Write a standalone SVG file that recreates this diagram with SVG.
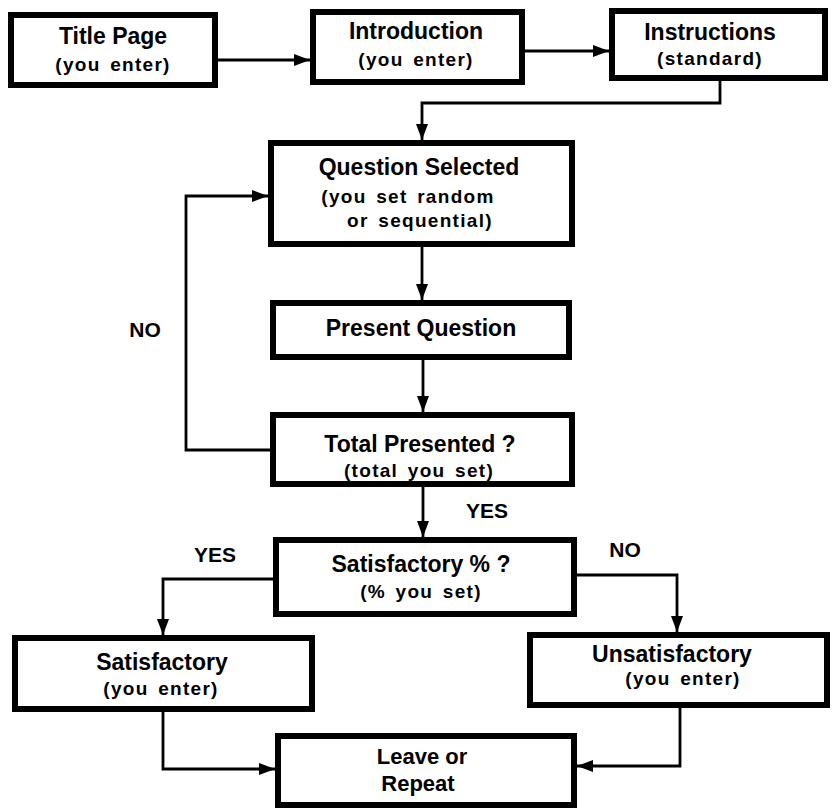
<svg xmlns="http://www.w3.org/2000/svg" width="832" height="809" viewBox="0 0 832 809">
<style>
.box{fill:#fff;stroke:#000;stroke-width:6}
.main{font-family:"Liberation Sans",Arial,Helvetica,sans-serif;font-weight:bold;font-size:23px;text-anchor:middle;fill:#000}
.sub{font-family:"Liberation Sans",Arial,Helvetica,sans-serif;font-weight:bold;font-size:19px;letter-spacing:1.3px;word-spacing:3px;text-anchor:middle;fill:#000}
.lbl{font-family:"Liberation Sans",Arial,Helvetica,sans-serif;font-weight:bold;font-size:21px;text-anchor:middle;fill:#000}
.con{fill:none;stroke:#000;stroke-width:2.8;marker-end:url(#arr)}
</style>
<defs>
<marker id="arr" viewBox="0 0 16 12" refX="16" refY="6" markerWidth="16" markerHeight="12" markerUnits="userSpaceOnUse" orient="auto">
<path d="M0,0 L16,6 L0,12 z" fill="#000"/>
</marker>
</defs>
<rect width="832" height="809" fill="#fff"/>
<g id="connectors">
<path class="con" d="M218,60 H310"/>
<path class="con" d="M525,51 H609"/>
<path class="con" d="M720,80 V103 H422 V140"/>
<path class="con" d="M422,247 V300"/>
<path class="con" d="M423,360 V412"/>
<path class="con" d="M423,487 V537"/>
<path class="con" d="M270,450 H186 V196 H268"/>
<path class="con" d="M273,579 H163 V635"/>
<path class="con" d="M577,575 H677 V632"/>
<path class="con" d="M163,712 V769 H275"/>
<path class="con" d="M680,708 V766 H577"/>
</g>
<g id="labels">
<text class="lbl" x="145" y="337">NO</text>
<text class="lbl" x="487" y="518">YES</text>
<text class="lbl" x="215" y="562">YES</text>
<text class="lbl" x="625" y="557">NO</text>
</g>
<g id="title-page">
<rect class="box" x="11" y="15" width="204" height="70"/>
<text class="main" x="113" y="44">Title Page</text>
<text class="sub" x="113" y="71">(you enter)</text>
</g>
<g id="introduction">
<rect class="box" x="313" y="12" width="209" height="70"/>
<text class="main" x="416" y="39">Introduction</text>
<text class="sub" x="416" y="66">(you enter)</text>
</g>
<g id="instructions">
<rect class="box" x="612" y="11" width="213" height="67"/>
<text class="main" x="710" y="40">Instructions</text>
<text class="sub" x="710" y="65">(standard)</text>
</g>
<g id="question-selected">
<rect class="box" x="271" y="143" width="301" height="101"/>
<text class="main" x="419" y="175">Question Selected</text>
<text class="sub" x="408" y="203">(you set random</text>
<text class="sub" x="420" y="227">or sequential)</text>
</g>
<g id="present-question">
<rect class="box" x="273" y="303" width="296" height="54"/>
<text class="main" x="421" y="336">Present Question</text>
</g>
<g id="total-presented">
<rect class="box" x="273" y="415" width="299" height="69"/>
<text class="main" x="420" y="452">Total Presented ?</text>
<text class="sub" x="419" y="477">(total you set)</text>
</g>
<g id="satisfactory-percent">
<rect class="box" x="276" y="540" width="298" height="74"/>
<text class="main" x="421" y="572">Satisfactory % ?</text>
<text class="sub" x="421" y="598">(% you set)</text>
</g>
<g id="satisfactory">
<rect class="box" x="15" y="638" width="297" height="71"/>
<text class="main" x="162" y="670">Satisfactory</text>
<text class="sub" x="161" y="695">(you enter)</text>
</g>
<g id="unsatisfactory">
<rect class="box" x="530" y="635" width="297" height="70"/>
<text class="main" x="672" y="662">Unsatisfactory</text>
<text class="sub" x="683" y="685">(you enter)</text>
</g>
<g id="leave-or-repeat">
<rect class="box" x="278" y="736" width="296" height="69"/>
<text class="main" x="422" y="764" style="font-size:22px">Leave or</text>
<text class="main" x="418" y="791" style="font-size:22px">Repeat</text>
</g>
</svg>
